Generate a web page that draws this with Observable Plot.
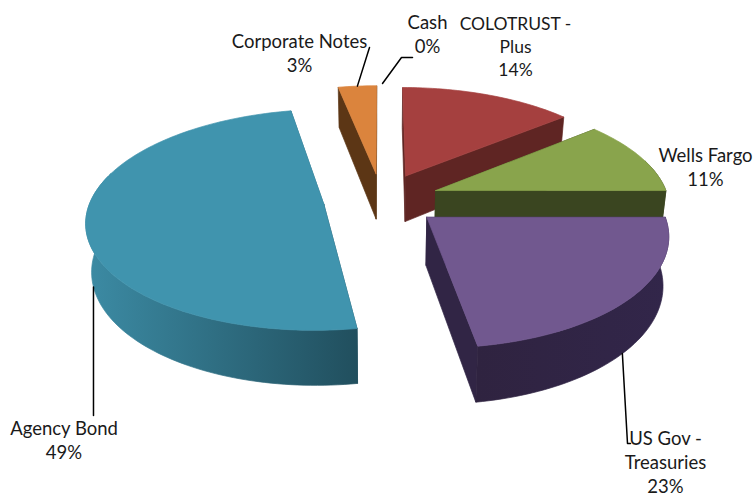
<!DOCTYPE html>
<html><head><meta charset="utf-8">
<style>html,body{margin:0;padding:0;background:#fff}svg{display:block}</style>
<script src="https://cdn.jsdelivr.net/npm/d3@7"></script>
<script src="https://cdn.jsdelivr.net/npm/@observablehq/plot@0.6"></script>
</head><body><div id="chart"></div>
<script>
// Data
const names = ["COLOTRUST -\nPlus", "Wells Fargo", "US Gov -\nTreasuries", "Agency Bond", "Corporate Notes", "Cash"];
const values = [14, 11, 22.5, 49.4, 3.1, 0];
const percentLabels = ["14%", "11%", "23%", "49%", "3%", "0%"];
// Styles
const topColors = ["#a5403f", "#89a44c", "#71588f", "#4094ae", "#db843d", "#4198af"];
const wallFrom = ["#5f2523", "#3a4520", "#2f2340", "#3c8ba4", "#5c3615", "#4198af"];
const wallTo = ["#5f2523", "#3a4520", "#32264a", "#214f5e", "#5c3615", "#4198af"];
const drawOrder = [4, 0, 1, 3, 2];
// Layout: label centres and leader vertices, in chart units
const labelX = [515, 705, 665, 63.5, 299, 427];
const labelY = [45, 166, 461, 439, 52, 33];
const labelSize = [17.5, 18.5, 18.5, 18.5, 18.5, 18.5];
const leaders = [
  {slice: 2, at: 0.52, via: [[627, 443], [630, 443]]},
  {slice: 3, at: 0.46, via: [[93, 415]]},
  {slice: 4, at: 0.5, via: [[369, 47]]}
];
const cashLeader = [[412, 57], [401, 57], [382, 83]];

// 3-D pie projection
const cx = 381, cy = 199, Rx = 233, Ry = 107, persp = 0.14, explode = 0.25, depth = 47, lowShrink = 0.98;
function project(slice, theta, r, low) {
  const u = r * Math.sin(theta) + explode * Math.sin(slice.mid);
  const v = r * Math.cos(theta) + explode * Math.cos(slice.mid);
  const s = 1 / (1 + persp * v);
  return {x: cx + Rx * u * s * (low ? lowShrink : 1), y: cy - Ry * v * s + (low ? depth * s : 0)};
}
const total = d3.sum(values);
let acc = 0;
const slices = values.map((v, i) => {
  const a0 = acc / total * 2 * Math.PI; acc += v;
  const a1 = acc / total * 2 * Math.PI;
  return {i, a0, a1, mid: (a0 + a1) / 2};
});
const poly = [];
const gradients = [];
let pid = 0;
const addPoly = (pts, fill) => { const id = pid++; [...pts, pts[0]].forEach(p => poly.push({x: p.x, y: p.y, id, fill})); };
for (const i of drawOrder) {
  const s = slices[i];
  const wallMid = d3.interpolateRgb(wallFrom[i], wallTo[i])(0.5);
  // cut faces
  for (const a of [s.a0, s.a1]) {
    addPoly([project(s, a, 0), project(s, a, 1), project(s, a, 1, true), project(s, a, 0, true)],
            a === s.a0 && i === 3 ? wallTo[i] : wallFrom[i] === wallTo[i] ? wallFrom[i] : wallMid);
  }
  // outer wall: one shape with a left-to-right gradient over its front part
  const n = Math.max(8, Math.round((s.a1 - s.a0) * 40));
  const ang = d3.range(n + 1).map(k => s.a0 + (s.a1 - s.a0) * k / n);
  const front = ang.filter(a => Math.cos(a) <= 0.1).map(a => project(s, a, 1).x);
  const shown = ang.filter(a => Math.cos(a) <= 0.3);
  if (shown.length > 1) {
    gradients.push({id: `wall${i}`, x1: Math.min(...front), x2: Math.max(...front), from: wallFrom[i], to: wallTo[i]});
    addPoly([...shown.map(a => project(s, a, 1)), ...shown.slice().reverse().map(a => project(s, a, 1, true))], `url(#wall${i})`);
  }
  // top face
  addPoly([project(s, 0, 0), ...ang.map(a => project(s, a, 1))], topColors[i]);
}
const labels = names.map((n, i) => ({text: `${n}\n${percentLabels[i]}`, x: labelX[i], y: labelY[i], size: labelSize[i]}));
const leaderPts = [];
leaders.forEach((l, k) => {
  const s = slices[l.slice];
  const a = s.a0 + (s.a1 - s.a0) * l.at;
  const start = project(s, a, 1, l.slice !== 4);
  [[start.x, start.y], ...l.via].forEach(p => leaderPts.push({x: p[0], y: p[1], k}));
});
cashLeader.forEach(p => leaderPts.push({x: p[0], y: p[1], k: "cash"}));

// Gradient definitions, added as a custom mark
const gradientDefs = () => {
  const defs = d3.create("svg:defs");
  for (const g of gradients) {
    const lg = defs.append("linearGradient").attr("id", g.id).attr("gradientUnits", "userSpaceOnUse")
      .attr("x1", g.x1).attr("x2", g.x2).attr("y1", 0).attr("y2", 0);
    lg.append("stop").attr("offset", 0).attr("stop-color", g.from);
    lg.append("stop").attr("offset", 1).attr("stop-color", g.to);
  }
  return defs.node();
};

const chart = Plot.plot({
  width: 756, height: 497, margin: 0,
  style: {background: "#fff"},
  x: {domain: [0, 756], range: [0, 756], axis: null},
  y: {domain: [0, 497], range: [0, 497], axis: null},
  color: {type: "identity"},
  marks: [
    gradientDefs,
    Plot.line(poly, {x: "x", y: "y", z: "id", fill: "fill", stroke: "fill", strokeWidth: 0.7, curve: "linear"}),
    Plot.line(leaderPts, {x: "x", y: "y", z: "k", stroke: "#000", strokeWidth: 1.5}),
    Plot.text(labels, {x: "x", y: "y", text: "text", textAnchor: "middle", lineAnchor: "middle", lineHeight: 1.3,
      fontFamily: "Lato", fontSize: "size", fill: "#1a1a1a"})
  ]
});
document.getElementById("chart").append(chart);
</script></body></html>
